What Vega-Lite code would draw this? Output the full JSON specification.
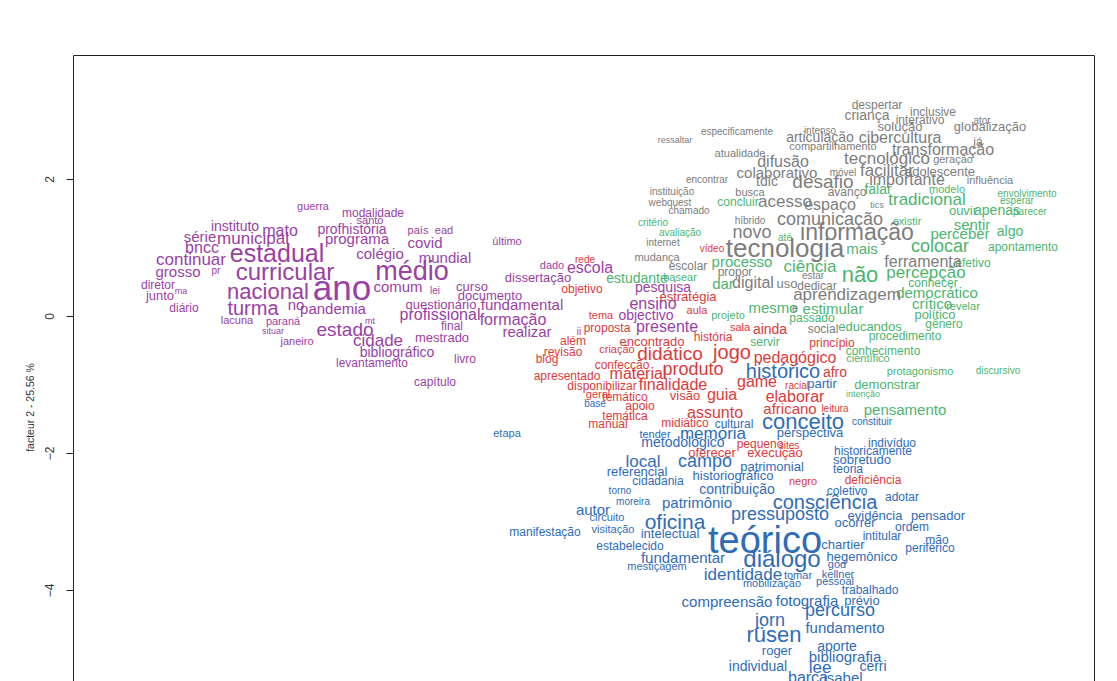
{
"$schema": "https://vega.github.io/schema/vega-lite/v6.json",
"autosize": "none",
"width": 1021,
"height": 626,
"padding": {"left": 73, "top": 55, "right": 23, "bottom": 0},
"background": "white",
"config": {"view": {"stroke": null}, "font": "Liberation Sans"},
"datasets": {
"words": [
{"t":"guerra","x":-3.93,"y":1.59,"w":11,"c":"2"},
{"t":"modalidade","x":-3.33,"y":1.50,"w":12,"c":"2"},
{"t":"santo","x":-3.36,"y":1.39,"w":11,"c":"2"},
{"t":"instituto","x":-4.71,"y":1.30,"w":14,"c":"2"},
{"t":"mato","x":-4.26,"y":1.24,"w":16,"c":"2"},
{"t":"profhistória","x":-3.54,"y":1.26,"w":14,"c":"2"},
{"t":"país","x":-2.88,"y":1.24,"w":11,"c":"2"},
{"t":"ead","x":-2.62,"y":1.24,"w":11,"c":"2"},
{"t":"série","x":-5.06,"y":1.15,"w":15,"c":"2"},
{"t":"municipal","x":-4.53,"y":1.12,"w":17,"c":"2"},
{"t":"programa","x":-3.49,"y":1.12,"w":15,"c":"2"},
{"t":"covid","x":-2.81,"y":1.07,"w":15,"c":"2"},
{"t":"último","x":-1.99,"y":1.08,"w":11,"c":"2"},
{"t":"bncc","x":-5.04,"y":0.99,"w":16,"c":"2"},
{"t":"estadual","x":-4.29,"y":0.91,"w":25,"c":"2"},
{"t":"colégio","x":-3.26,"y":0.91,"w":15,"c":"2"},
{"t":"mundial","x":-2.61,"y":0.85,"w":15,"c":"2"},
{"t":"continuar","x":-5.15,"y":0.82,"w":17,"c":"2"},
{"t":"médio","x":-2.94,"y":0.64,"w":27,"c":"2"},
{"t":"grosso","x":-5.28,"y":0.64,"w":15,"c":"2"},
{"t":"pr","x":-4.90,"y":0.66,"w":10,"c":"2"},
{"t":"curricular","x":-4.21,"y":0.63,"w":24,"c":"2"},
{"t":"dado","x":-1.54,"y":0.73,"w":11,"c":"2"},
{"t":"escola","x":-1.16,"y":0.70,"w":16,"c":"2"},
{"t":"dissertação","x":-1.68,"y":0.55,"w":13,"c":"2"},
{"t":"diretor","x":-5.48,"y":0.45,"w":12,"c":"2"},
{"t":"ma","x":-5.25,"y":0.37,"w":9,"c":"2"},
{"t":"junto","x":-5.46,"y":0.29,"w":13,"c":"2"},
{"t":"nacional","x":-4.38,"y":0.35,"w":22,"c":"2"},
{"t":"ano","x":-3.64,"y":0.39,"w":35,"c":"2"},
{"t":"comum","x":-3.08,"y":0.42,"w":15,"c":"2"},
{"t":"lei","x":-2.71,"y":0.37,"w":10,"c":"2"},
{"t":"curso","x":-2.34,"y":0.42,"w":13,"c":"2"},
{"t":"documento","x":-2.16,"y":0.29,"w":13,"c":"2"},
{"t":"pesquisa","x":-0.43,"y":0.41,"w":14,"c":"2"},
{"t":"diário","x":-5.22,"y":0.12,"w":12,"c":"2"},
{"t":"turma","x":-4.53,"y":0.10,"w":20,"c":"2"},
{"t":"no","x":-4.10,"y":0.16,"w":15,"c":"2"},
{"t":"pandemia","x":-3.73,"y":0.10,"w":15,"c":"2"},
{"t":"questionário","x":-2.65,"y":0.16,"w":13,"c":"2"},
{"t":"fundamental","x":-1.84,"y":0.16,"w":15,"c":"2"},
{"t":"profissional","x":-2.66,"y":0.01,"w":16,"c":"2"},
{"t":"formação","x":-1.93,"y":-0.06,"w":16,"c":"2"},
{"t":"ensino","x":-0.53,"y":0.18,"w":16,"c":"2"},
{"t":"lacuna","x":-4.69,"y":-0.07,"w":11,"c":"2"},
{"t":"paraná","x":-4.23,"y":-0.09,"w":11,"c":"2"},
{"t":"mt","x":-3.36,"y":-0.07,"w":9,"c":"2"},
{"t":"estado","x":-3.61,"y":-0.20,"w":19,"c":"2"},
{"t":"final","x":-2.54,"y":-0.15,"w":12,"c":"2"},
{"t":"realizar","x":-1.79,"y":-0.23,"w":15,"c":"2"},
{"t":"situar","x":-4.33,"y":-0.22,"w":9,"c":"2"},
{"t":"janeiro","x":-4.09,"y":-0.38,"w":11,"c":"2"},
{"t":"cidade","x":-3.28,"y":-0.37,"w":17,"c":"2"},
{"t":"mestrado","x":-2.64,"y":-0.32,"w":13,"c":"2"},
{"t":"presente","x":-0.39,"y":-0.16,"w":16,"c":"2"},
{"t":"bibliográfico","x":-3.09,"y":-0.54,"w":14,"c":"2"},
{"t":"livro","x":-2.41,"y":-0.63,"w":12,"c":"2"},
{"t":"levantamento","x":-3.34,"y":-0.69,"w":12,"c":"2"},
{"t":"capítulo","x":-2.71,"y":-0.96,"w":12,"c":"2"},
{"t":"objectivo","x":-0.60,"y":0.00,"w":14,"c":"2"},
{"t":"objetivo","x":-1.24,"y":0.39,"w":12,"c":"1"},
{"t":"estratégia","x":-0.18,"y":0.28,"w":13,"c":"1"},
{"t":"tema","x":-1.05,"y":0.00,"w":11,"c":"1"},
{"t":"aula","x":-0.09,"y":0.07,"w":11,"c":"1"},
{"t":"ii","x":-1.27,"y":-0.23,"w":10,"c":"1"},
{"t":"proposta","x":-0.99,"y":-0.18,"w":12,"c":"1"},
{"t":"além","x":-1.33,"y":-0.37,"w":12,"c":"1"},
{"t":"encontrado","x":-0.54,"y":-0.38,"w":13,"c":"1"},
{"t":"história","x":0.07,"y":-0.31,"w":12,"c":"1"},
{"t":"revisão","x":-1.43,"y":-0.53,"w":12,"c":"1"},
{"t":"criação","x":-0.89,"y":-0.50,"w":11,"c":"1"},
{"t":"blog","x":-1.59,"y":-0.63,"w":12,"c":"1"},
{"t":"didático","x":-0.36,"y":-0.55,"w":19,"c":"1"},
{"t":"jogo","x":0.26,"y":-0.54,"w":20,"c":"1"},
{"t":"confecção","x":-0.84,"y":-0.72,"w":12,"c":"1"},
{"t":"apresentado","x":-1.39,"y":-0.88,"w":12,"c":"1"},
{"t":"material","x":-0.68,"y":-0.85,"w":16,"c":"1"},
{"t":"produto","x":-0.13,"y":-0.79,"w":18,"c":"1"},
{"t":"disponibilizar","x":-1.04,"y":-1.02,"w":12,"c":"1"},
{"t":"finalidade","x":-0.33,"y":-1.01,"w":16,"c":"1"},
{"t":"geral","x":-1.08,"y":-1.15,"w":11,"c":"1"},
{"t":"temático","x":-0.81,"y":-1.18,"w":12,"c":"1"},
{"t":"visão","x":-0.21,"y":-1.17,"w":13,"c":"1"},
{"t":"guia","x":0.16,"y":-1.15,"w":16,"c":"1"},
{"t":"apoio","x":-0.66,"y":-1.31,"w":12,"c":"1"},
{"t":"assunto","x":0.09,"y":-1.42,"w":16,"c":"1"},
{"t":"temática","x":-0.81,"y":-1.46,"w":12,"c":"1"},
{"t":"manual","x":-0.98,"y":-1.58,"w":12,"c":"1"},
{"t":"midiático","x":-0.21,"y":-1.56,"w":12,"c":"1"},
{"t":"sala","x":0.34,"y":-0.18,"w":11,"c":"1"},
{"t":"ainda","x":0.64,"y":-0.20,"w":14,"c":"1"},
{"t":"pedagógico","x":0.89,"y":-0.61,"w":16,"c":"1"},
{"t":"afro","x":1.29,"y":-0.83,"w":14,"c":"1"},
{"t":"game","x":0.51,"y":-0.96,"w":16,"c":"1"},
{"t":"racial","x":0.91,"y":-1.02,"w":10,"c":"1"},
{"t":"elaborar","x":0.89,"y":-1.18,"w":16,"c":"1"},
{"t":"africano","x":0.84,"y":-1.36,"w":15,"c":"1"},
{"t":"leitura","x":1.29,"y":-1.36,"w":10,"c":"1"},
{"t":"princípio","x":1.26,"y":-0.39,"w":12,"c":"1"},
{"t":"pequeno","x":0.54,"y":-1.87,"w":12,"c":"1"},
{"t":"sites","x":0.83,"y":-1.90,"w":10,"c":"1"},
{"t":"oferecer","x":0.06,"y":-2.00,"w":13,"c":"1"},
{"t":"execução","x":0.69,"y":-2.00,"w":13,"c":"1"},
{"t":"negro","x":0.97,"y":-2.42,"w":11,"c":"1"},
{"t":"deficiência","x":1.67,"y":-2.39,"w":12,"c":"1"},
{"t":"vídeo","x":0.06,"y":0.98,"w":10,"c":"1"},
{"t":"rede","x":-1.21,"y":0.82,"w":10,"c":"1"},
{"t":"critério","x":-0.53,"y":1.36,"w":10,"c":"4"},
{"t":"avaliação","x":-0.26,"y":1.21,"w":10,"c":"4"},
{"t":"estudante","x":-0.69,"y":0.54,"w":14,"c":"4"},
{"t":"basear","x":-0.26,"y":0.55,"w":11,"c":"4"},
{"t":"processo","x":0.36,"y":0.79,"w":15,"c":"4"},
{"t":"ciência","x":1.04,"y":0.72,"w":17,"c":"4"},
{"t":"dar","x":0.17,"y":0.47,"w":15,"c":"4"},
{"t":"não","x":1.54,"y":0.60,"w":22,"c":"4"},
{"t":"percepção","x":2.20,"y":0.63,"w":17,"c":"4"},
{"t":"até","x":0.79,"y":1.14,"w":10,"c":"4"},
{"t":"mais","x":1.56,"y":0.98,"w":15,"c":"4"},
{"t":"existir","x":2.01,"y":1.37,"w":11,"c":"4"},
{"t":"sentir","x":2.66,"y":1.33,"w":15,"c":"4"},
{"t":"perceber","x":2.54,"y":1.20,"w":15,"c":"4"},
{"t":"algo","x":3.04,"y":1.23,"w":14,"c":"4"},
{"t":"colocar","x":2.34,"y":1.01,"w":18,"c":"4"},
{"t":"apontamento","x":3.17,"y":1.01,"w":12,"c":"4"},
{"t":"efetivo","x":2.67,"y":0.77,"w":12,"c":"4"},
{"t":"conhecer","x":2.27,"y":0.48,"w":12,"c":"4"},
{"t":"democrático","x":2.31,"y":0.34,"w":15,"c":"4"},
{"t":"mesmo","x":0.67,"y":0.12,"w":15,"c":"4"},
{"t":"estimular","x":1.27,"y":0.10,"w":15,"c":"4"},
{"t":"crítico","x":2.26,"y":0.18,"w":15,"c":"4"},
{"t":"revelar","x":2.57,"y":0.13,"w":11,"c":"4"},
{"t":"projeto","x":0.22,"y":0.00,"w":11,"c":"4"},
{"t":"passado","x":1.06,"y":-0.03,"w":12,"c":"4"},
{"t":"político","x":2.29,"y":0.01,"w":13,"c":"4"},
{"t":"educandos","x":1.64,"y":-0.16,"w":13,"c":"4"},
{"t":"gênero","x":2.38,"y":-0.12,"w":12,"c":"4"},
{"t":"servir","x":0.59,"y":-0.38,"w":12,"c":"4"},
{"t":"procedimento","x":1.99,"y":-0.29,"w":12,"c":"4"},
{"t":"conhecimento","x":1.77,"y":-0.51,"w":12,"c":"4"},
{"t":"científico","x":1.62,"y":-0.63,"w":11,"c":"4"},
{"t":"protagonismo","x":2.14,"y":-0.82,"w":11,"c":"4"},
{"t":"discursivo","x":2.92,"y":-0.80,"w":10,"c":"4"},
{"t":"demonstrar","x":1.81,"y":-1.01,"w":13,"c":"4"},
{"t":"intenção","x":1.57,"y":-1.14,"w":9,"c":"4"},
{"t":"pensamento","x":1.99,"y":-1.37,"w":15,"c":"4"},
{"t":"falar","x":1.72,"y":1.84,"w":14,"c":"4"},
{"t":"modelo","x":2.41,"y":1.84,"w":11,"c":"4"},
{"t":"envolvimento","x":3.21,"y":1.78,"w":10,"c":"4"},
{"t":"concluir","x":0.32,"y":1.66,"w":12,"c":"4"},
{"t":"tradicional","x":2.21,"y":1.69,"w":17,"c":"4"},
{"t":"esperar","x":3.11,"y":1.68,"w":10,"c":"4"},
{"t":"ouvir","x":2.57,"y":1.53,"w":13,"c":"4"},
{"t":"apenas","x":2.91,"y":1.53,"w":14,"c":"4"},
{"t":"parecer","x":3.24,"y":1.52,"w":10,"c":"4"},
{"t":"despertar","x":1.71,"y":3.08,"w":12,"c":"5"},
{"t":"inclusive","x":2.27,"y":2.98,"w":12,"c":"5"},
{"t":"criança","x":1.61,"y":2.92,"w":14,"c":"5"},
{"t":"interativo","x":2.14,"y":2.86,"w":12,"c":"5"},
{"t":"ator","x":2.76,"y":2.85,"w":10,"c":"5"},
{"t":"especificamente","x":0.31,"y":2.69,"w":10,"c":"5"},
{"t":"intenso","x":1.14,"y":2.70,"w":10,"c":"5"},
{"t":"solução","x":1.94,"y":2.76,"w":13,"c":"5"},
{"t":"globalização","x":2.84,"y":2.76,"w":13,"c":"5"},
{"t":"ressaltar","x":-0.31,"y":2.57,"w":9,"c":"5"},
{"t":"articulação","x":1.14,"y":2.60,"w":14,"c":"5"},
{"t":"cibercultura","x":1.94,"y":2.60,"w":16,"c":"5"},
{"t":"já","x":2.72,"y":2.54,"w":12,"c":"5"},
{"t":"compartilhamento","x":1.27,"y":2.47,"w":11,"c":"5"},
{"t":"transformação","x":2.37,"y":2.42,"w":16,"c":"5"},
{"t":"atualidade","x":0.34,"y":2.37,"w":11,"c":"5"},
{"t":"difusão","x":0.77,"y":2.25,"w":16,"c":"5"},
{"t":"tecnológico","x":1.81,"y":2.29,"w":17,"c":"5"},
{"t":"geração","x":2.47,"y":2.28,"w":11,"c":"5"},
{"t":"colaborativo","x":0.71,"y":2.09,"w":15,"c":"5"},
{"t":"móvel","x":1.37,"y":2.09,"w":10,"c":"5"},
{"t":"facilitar","x":1.81,"y":2.12,"w":17,"c":"5"},
{"t":"adolescente","x":2.34,"y":2.10,"w":13,"c":"5"},
{"t":"encontrar","x":0.01,"y":1.99,"w":10,"c":"5"},
{"t":"tdic","x":0.61,"y":1.96,"w":14,"c":"5"},
{"t":"desafio","x":1.17,"y":1.96,"w":19,"c":"5"},
{"t":"importante","x":2.01,"y":1.99,"w":16,"c":"5"},
{"t":"influência","x":2.84,"y":1.97,"w":11,"c":"5"},
{"t":"instituição","x":-0.34,"y":1.81,"w":10,"c":"5"},
{"t":"busca","x":0.44,"y":1.80,"w":11,"c":"5"},
{"t":"avanço","x":1.41,"y":1.81,"w":12,"c":"5"},
{"t":"webquest","x":-0.36,"y":1.65,"w":10,"c":"5"},
{"t":"acesso","x":0.79,"y":1.66,"w":17,"c":"5"},
{"t":"espaço","x":1.24,"y":1.62,"w":16,"c":"5"},
{"t":"tics","x":1.71,"y":1.62,"w":9,"c":"5"},
{"t":"chamado","x":-0.17,"y":1.53,"w":10,"c":"5"},
{"t":"híbrido","x":0.44,"y":1.39,"w":10,"c":"5"},
{"t":"comunicação","x":1.24,"y":1.40,"w":18,"c":"5"},
{"t":"novo","x":0.46,"y":1.21,"w":18,"c":"5"},
{"t":"informação","x":1.51,"y":1.21,"w":23,"c":"5"},
{"t":"internet","x":-0.43,"y":1.07,"w":10,"c":"5"},
{"t":"tecnologia","x":0.79,"y":0.98,"w":26,"c":"5"},
{"t":"ferramenta","x":2.17,"y":0.79,"w":16,"c":"5"},
{"t":"mudança","x":-0.49,"y":0.85,"w":11,"c":"5"},
{"t":"escolar","x":-0.18,"y":0.73,"w":12,"c":"5"},
{"t":"propor","x":0.29,"y":0.64,"w":12,"c":"5"},
{"t":"estar","x":1.07,"y":0.58,"w":10,"c":"5"},
{"t":"digital","x":0.47,"y":0.48,"w":16,"c":"5"},
{"t":"uso","x":0.81,"y":0.47,"w":13,"c":"5"},
{"t":"dedicar","x":1.11,"y":0.44,"w":12,"c":"5"},
{"t":"aprendizagem","x":1.41,"y":0.31,"w":17,"c":"5"},
{"t":"e","x":0.89,"y":0.10,"w":11,"c":"5"},
{"t":"social","x":1.17,"y":-0.19,"w":12,"c":"5"},
{"t":"histórico","x":0.77,"y":-0.82,"w":20,"c":"3"},
{"t":"partir","x":1.16,"y":-0.99,"w":13,"c":"3"},
{"t":"base","x":-1.11,"y":-1.29,"w":10,"c":"3"},
{"t":"etapa","x":-1.99,"y":-1.72,"w":11,"c":"3"},
{"t":"cultural","x":0.28,"y":-1.58,"w":12,"c":"3"},
{"t":"conceito","x":0.97,"y":-1.55,"w":22,"c":"3"},
{"t":"constituir","x":1.66,"y":-1.55,"w":10,"c":"3"},
{"t":"tender","x":-0.51,"y":-1.74,"w":11,"c":"3"},
{"t":"memória","x":0.07,"y":-1.72,"w":17,"c":"3"},
{"t":"perspectiva","x":1.04,"y":-1.71,"w":13,"c":"3"},
{"t":"metodológico","x":-0.23,"y":-1.85,"w":14,"c":"3"},
{"t":"indivíduo","x":1.86,"y":-1.85,"w":12,"c":"3"},
{"t":"historicamente","x":1.67,"y":-1.97,"w":12,"c":"3"},
{"t":"local","x":-0.63,"y":-2.13,"w":17,"c":"3"},
{"t":"campo","x":-0.01,"y":-2.13,"w":18,"c":"3"},
{"t":"sobretudo","x":1.56,"y":-2.10,"w":13,"c":"3"},
{"t":"patrimonial","x":0.66,"y":-2.20,"w":13,"c":"3"},
{"t":"teoria","x":1.42,"y":-2.23,"w":12,"c":"3"},
{"t":"referencial","x":-0.69,"y":-2.28,"w":13,"c":"3"},
{"t":"historiográfico","x":0.27,"y":-2.34,"w":13,"c":"3"},
{"t":"cidadania","x":-0.48,"y":-2.41,"w":12,"c":"3"},
{"t":"coletivo","x":1.41,"y":-2.56,"w":12,"c":"3"},
{"t":"torno","x":-0.86,"y":-2.56,"w":10,"c":"3"},
{"t":"contribuição","x":0.31,"y":-2.54,"w":14,"c":"3"},
{"t":"adotar","x":1.96,"y":-2.64,"w":12,"c":"3"},
{"t":"consciência","x":1.19,"y":-2.73,"w":20,"c":"3"},
{"t":"moreira","x":-0.73,"y":-2.72,"w":10,"c":"3"},
{"t":"patrimônio","x":-0.09,"y":-2.73,"w":15,"c":"3"},
{"t":"autor","x":-1.13,"y":-2.83,"w":15,"c":"3"},
{"t":"pressuposto","x":0.74,"y":-2.91,"w":18,"c":"3"},
{"t":"evidência","x":1.69,"y":-2.92,"w":13,"c":"3"},
{"t":"pensador","x":2.32,"y":-2.92,"w":13,"c":"3"},
{"t":"circuito","x":-0.99,"y":-2.95,"w":11,"c":"3"},
{"t":"oficina","x":-0.31,"y":-3.02,"w":21,"c":"3"},
{"t":"ocorrer","x":1.49,"y":-3.02,"w":13,"c":"3"},
{"t":"ordem","x":2.06,"y":-3.08,"w":12,"c":"3"},
{"t":"manifestação","x":-1.61,"y":-3.15,"w":12,"c":"3"},
{"t":"visitação","x":-0.93,"y":-3.12,"w":11,"c":"3"},
{"t":"intelectual","x":-0.36,"y":-3.18,"w":13,"c":"3"},
{"t":"intitular","x":1.76,"y":-3.21,"w":12,"c":"3"},
{"t":"teórico","x":0.59,"y":-3.30,"w":38,"c":"3"},
{"t":"mão","x":2.31,"y":-3.27,"w":12,"c":"3"},
{"t":"chartier","x":1.37,"y":-3.34,"w":13,"c":"3"},
{"t":"periférico","x":2.24,"y":-3.39,"w":12,"c":"3"},
{"t":"estabelecido","x":-0.76,"y":-3.36,"w":12,"c":"3"},
{"t":"fundamentar","x":-0.23,"y":-3.53,"w":15,"c":"3"},
{"t":"diálogo","x":0.76,"y":-3.56,"w":24,"c":"3"},
{"t":"hegemônico","x":1.56,"y":-3.52,"w":13,"c":"3"},
{"t":"god","x":1.31,"y":-3.64,"w":11,"c":"3"},
{"t":"mestiçagem","x":-0.49,"y":-3.66,"w":11,"c":"3"},
{"t":"identidade","x":0.37,"y":-3.78,"w":17,"c":"3"},
{"t":"tomar","x":0.92,"y":-3.80,"w":11,"c":"3"},
{"t":"kellner","x":1.32,"y":-3.78,"w":11,"c":"3"},
{"t":"mobilização","x":0.66,"y":-3.91,"w":11,"c":"3"},
{"t":"pessoal","x":1.29,"y":-3.88,"w":11,"c":"3"},
{"t":"trabalhado","x":1.64,"y":-4.00,"w":12,"c":"3"},
{"t":"compreensão","x":0.21,"y":-4.18,"w":15,"c":"3"},
{"t":"fotografia","x":1.01,"y":-4.16,"w":15,"c":"3"},
{"t":"prévio","x":1.56,"y":-4.16,"w":13,"c":"3"},
{"t":"percurso","x":1.34,"y":-4.31,"w":18,"c":"3"},
{"t":"jorn","x":0.64,"y":-4.45,"w":18,"c":"3"},
{"t":"fundamento","x":1.39,"y":-4.56,"w":15,"c":"3"},
{"t":"rüsen","x":0.68,"y":-4.66,"w":22,"c":"3"},
{"t":"aporte","x":1.31,"y":-4.83,"w":14,"c":"3"},
{"t":"roger","x":0.71,"y":-4.89,"w":13,"c":"3"},
{"t":"bibliografia","x":1.39,"y":-4.98,"w":15,"c":"3"},
{"t":"individual","x":0.52,"y":-5.12,"w":14,"c":"3"},
{"t":"lee","x":1.14,"y":-5.14,"w":17,"c":"3"},
{"t":"cerri","x":1.67,"y":-5.12,"w":14,"c":"3"},
{"t":"barca","x":1.02,"y":-5.29,"w":16,"c":"3"},
{"t":"isabel","x":1.37,"y":-5.29,"w":15,"c":"3"}
]
},
"resolve": {"axis": {"y": "independent"}},
"layer": [
{
"mark": {"type": "rule", "strokeDash": [5, 3], "color": "#444", "strokeWidth": 1},
"encoding": {
"x": {"datum": 0, "type": "quantitative", "scale": {"domain": [-6.33, 3.88], "nice": false, "zero": false}, "axis": {"orient": "top", "labels": false, "ticks": false, "domain": true, "domainColor": "#222", "grid": false, "title": null}}
}
},
{
"mark": {"type": "rule", "strokeDash": [5, 3], "color": "#444", "strokeWidth": 1},
"encoding": {
"y": {"datum": 0, "type": "quantitative", "scale": {"domain": [-5.328, 3.81], "nice": false, "zero": false}, "axis": {"orient": "right", "labels": false, "ticks": false, "domain": true, "domainColor": "#222", "grid": false, "title": null}}
}
},
{
"data": {"name": "words"},
"mark": {"type": "text", "font": "Liberation Sans", "align": "center", "baseline": "middle"},
"encoding": {
"x": {"field": "x", "type": "quantitative", "scale": {"domain": [-6.33, 3.88], "nice": false, "zero": false}, "axis": {"orient": "top", "labels": false, "ticks": false, "domain": true, "domainColor": "#222", "grid": false, "title": null}},
"y": {"field": "y", "type": "quantitative", "scale": {"domain": [-5.328, 3.81], "nice": false, "zero": false}, "axis": {"orient": "left", "values": [-4, -2, 0, 2], "grid": false, "labelAngle": 270, "labelAlign": "center", "labelBaseline": "middle", "labelPadding": 17, "labelFontSize": 12, "labelColor": "#333", "labelFont": "Liberation Sans", "tickSize": 7, "tickColor": "#222", "domainColor": "#222", "title": "facteur 2 - 25.56 %", "titleAngle": 270, "titleFont": "Liberation Sans", "titleFontSize": 10.5, "titleFontWeight": "normal", "titleColor": "#333", "titleX": -40, "titleY": 352, "titleAlign": "center", "titleBaseline": "alphabetic"}},
"text": {"field": "t"},
"size": {"field": "w", "type": "quantitative", "scale": null, "legend": null},
"color": {"field": "c", "type": "nominal", "scale": {"domain": ["1", "2", "3", "4", "5"], "range": ["#db3b3b", "#9a3fa5", "#2f6cb8", "#4db56f", "#7d7d7d"]}, "legend": null}
}
}
]
}
